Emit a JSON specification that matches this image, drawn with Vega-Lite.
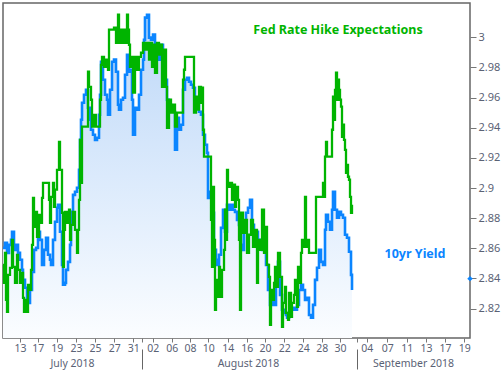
{
  "$schema": "https://vega.github.io/schema/vega-lite/v6.json",
  "width": 467,
  "height": 335,
  "autosize": {"type": "none"},
  "padding": {"left": 3, "top": 3, "right": 34, "bottom": 32},
  "background": "#ffffff",
  "config": {
    "view": {"stroke": "#666666", "strokeWidth": 1.5},
    "axis": {"grid": false, "domain": false, "labelFont": "Noto Sans", "labelFontSize": 11, "labelColor": "#5a6275", "tickColor": "#777777", "title": null, "labelOverlap": false, "labelFlush": false}
  },
  "datasets": {
    "blue": [
      {"i":3,"v":2.8603},{"i":5,"v":2.8637},{"i":7,"v":2.8570},{"i":9,"v":2.8623},{"i":11,"v":2.8656},{"i":12,"v":2.8710},{"i":14,"v":2.8590},{"i":16,"v":2.8623},{"i":18,"v":2.8570},{"i":20,"v":2.8524},
      {"i":22,"v":2.8457},{"i":23,"v":2.8391},{"i":25,"v":2.8338},{"i":27,"v":2.8258},{"i":28,"v":2.8238},{"i":30,"v":2.8324},{"i":32,"v":2.8444},{"i":34,"v":2.8590},{"i":36,"v":2.8603},{"i":38,"v":2.8710},
      {"i":40,"v":2.8656},{"i":42,"v":2.8490},{"i":44,"v":2.8590},{"i":46,"v":2.8670},{"i":48,"v":2.8557},{"i":50,"v":2.8524},{"i":51,"v":2.8490},{"i":53,"v":2.8656},{"i":55,"v":2.8776},{"i":57,"v":2.8869},
      {"i":58,"v":2.8889},{"i":60,"v":2.8710},{"i":62,"v":2.8490},{"i":63,"v":2.8358},{"i":65,"v":2.8371},{"i":66,"v":2.8457},{"i":68,"v":2.8510},{"i":70,"v":2.8623},{"i":71,"v":2.8842},{"i":73,"v":2.8955},
      {"i":75,"v":2.8975},{"i":77,"v":2.9002},{"i":79,"v":2.9121},{"i":80,"v":2.9320},{"i":81,"v":2.9453},{"i":82,"v":2.9566},{"i":84,"v":2.9619},{"i":86,"v":2.9652},{"i":88,"v":2.9533},{"i":90,"v":2.9453},
      {"i":91,"v":2.9387},{"i":93,"v":2.9354},{"i":95,"v":2.9320},{"i":97,"v":2.9334},{"i":99,"v":2.9486},{"i":100,"v":2.9619},{"i":101,"v":2.9838},{"i":103,"v":2.9719},{"i":105,"v":2.9619},{"i":107,"v":2.9586},
      {"i":108,"v":2.9486},{"i":110,"v":2.9652},{"i":112,"v":2.9838},{"i":114,"v":2.9852},{"i":116,"v":2.9772},{"i":118,"v":2.9553},{"i":119,"v":2.9520},{"i":121,"v":2.9586},{"i":123,"v":2.9599},{"i":125,"v":2.9752},
      {"i":127,"v":2.9885},{"i":129,"v":2.9772},{"i":131,"v":2.9785},{"i":132,"v":2.9586},{"i":133,"v":2.9354},{"i":135,"v":2.9533},{"i":137,"v":2.9520},{"i":139,"v":2.9619},{"i":141,"v":2.9785},{"i":143,"v":2.9852},
      {"i":144,"v":2.9984},{"i":145,"v":3.0131},{"i":147,"v":3.0150},{"i":149,"v":2.9998},{"i":151,"v":2.9984},{"i":153,"v":3.0018},{"i":155,"v":2.9918},{"i":157,"v":2.9885},{"i":159,"v":2.9852},{"i":161,"v":2.9951},
      {"i":163,"v":2.9865},{"i":165,"v":2.9719},{"i":167,"v":2.9586},{"i":169,"v":2.9553},{"i":171,"v":2.9520},{"i":173,"v":2.9506},{"i":175,"v":2.9254},{"i":177,"v":2.9466},{"i":179,"v":2.9387},{"i":181,"v":2.9420},
      {"i":183,"v":2.9652},{"i":185,"v":2.9719},{"i":187,"v":2.9732},{"i":189,"v":2.9705},{"i":191,"v":2.9686},{"i":193,"v":2.9666},{"i":195,"v":2.9586},{"i":197,"v":2.9553},{"i":199,"v":2.9506},{"i":201,"v":2.9486},
      {"i":203,"v":2.9354},{"i":205,"v":2.9287},{"i":207,"v":2.9234},{"i":208,"v":2.8935},{"i":210,"v":2.8975},{"i":212,"v":2.8836},{"i":214,"v":2.8590},{"i":216,"v":2.8524},{"i":217,"v":2.8490},{"i":219,"v":2.8557},
      {"i":221,"v":2.8736},{"i":223,"v":2.8856},{"i":225,"v":2.8710},{"i":227,"v":2.8889},{"i":229,"v":2.8856},{"i":231,"v":2.8889},{"i":233,"v":2.8856},{"i":235,"v":2.8842},{"i":237,"v":2.8789},{"i":239,"v":2.8756},
      {"i":241,"v":2.8623},{"i":242,"v":2.8590},{"i":244,"v":2.8756},{"i":246,"v":2.8836},{"i":248,"v":2.8869},{"i":250,"v":2.8922},{"i":252,"v":2.8756},{"i":254,"v":2.8690},{"i":256,"v":2.8710},{"i":258,"v":2.8656},
      {"i":260,"v":2.8623},{"i":262,"v":2.8590},{"i":264,"v":2.8623},{"i":266,"v":2.8490},{"i":268,"v":2.8324},{"i":270,"v":2.8225},{"i":272,"v":2.8258},{"i":274,"v":2.8225},{"i":276,"v":2.8424},{"i":278,"v":2.8510},
      {"i":280,"v":2.8291},{"i":282,"v":2.8192},{"i":284,"v":2.8172},{"i":286,"v":2.8158},{"i":287,"v":2.8139},{"i":289,"v":2.8172},{"i":291,"v":2.8192},{"i":293,"v":2.8205},{"i":295,"v":2.8192},{"i":297,"v":2.8225},
      {"i":299,"v":2.8324},{"i":301,"v":2.8358},{"i":303,"v":2.8324},{"i":305,"v":2.8258},{"i":307,"v":2.8271},{"i":309,"v":2.8158},{"i":311,"v":2.8139},{"i":313,"v":2.8225},{"i":315,"v":2.8391},{"i":317,"v":2.8471},
      {"i":319,"v":2.8590},{"i":321,"v":2.8510},{"i":323,"v":2.8490},{"i":325,"v":2.8723},{"i":326,"v":2.8822},{"i":328,"v":2.8776},{"i":330,"v":2.8723},{"i":332,"v":2.8856},{"i":333,"v":2.8975},{"i":335,"v":2.8856},
      {"i":337,"v":2.8803},{"i":339,"v":2.8842},{"i":341,"v":2.8822},{"i":343,"v":2.8803},{"i":345,"v":2.8690},{"i":347,"v":2.8670},{"i":349,"v":2.8577},{"i":351,"v":2.8424},{"i":352,"v":2.8324}
    ],
    "fed": [
      {"i":3,"v":2.8490},{"i":4,"v":2.8371},{"i":5,"v":2.8570},{"i":6,"v":2.8258},{"i":7,"v":2.8178},{"i":8,"v":2.8424},{"i":10,"v":2.8471},{"i":12,"v":2.8656},{"i":13,"v":2.8477},{"i":15,"v":2.8371},
      {"i":17,"v":2.8557},{"i":18,"v":2.8457},{"i":20,"v":2.8371},{"i":22,"v":2.8437},{"i":23,"v":2.8271},{"i":24,"v":2.8178},{"i":25,"v":2.8258},{"i":27,"v":2.8178},{"i":28,"v":2.8358},{"i":30,"v":2.8324},
      {"i":31,"v":2.8457},{"i":32,"v":2.8623},{"i":33,"v":2.8935},{"i":34,"v":2.8743},{"i":36,"v":2.8842},{"i":37,"v":2.8676},{"i":39,"v":2.8822},{"i":41,"v":2.8769},{"i":42,"v":2.8935},{"i":43,"v":2.9035},
      {"i":48,"v":2.9035},{"i":49,"v":2.8922},{"i":50,"v":2.8769},{"i":51,"v":2.8942},{"i":53,"v":2.9035},{"i":54,"v":2.8876},{"i":55,"v":2.8989},{"i":57,"v":2.9121},{"i":59,"v":2.9307},{"i":60,"v":2.9121},
      {"i":62,"v":2.8836},{"i":63,"v":2.8477},{"i":64,"v":2.8723},{"i":65,"v":2.8842},{"i":67,"v":2.8769},{"i":69,"v":2.8856},{"i":70,"v":2.8656},{"i":71,"v":2.8756},{"i":73,"v":2.8842},{"i":75,"v":2.8723},
      {"i":77,"v":2.8570},{"i":78,"v":2.8723},{"i":79,"v":2.8922},{"i":80,"v":2.9320},{"i":81,"v":2.9035},{"i":82,"v":2.9407},{"i":87,"v":2.9407},{"i":88,"v":2.9772},{"i":89,"v":2.9672},{"i":91,"v":2.9586},
      {"i":92,"v":2.9407},{"i":94,"v":2.9486},{"i":96,"v":2.9407},{"i":100,"v":2.9586},{"i":101,"v":2.9818},{"i":102,"v":2.9871},{"i":104,"v":2.9805},{"i":106,"v":2.9852},{"i":108,"v":2.9785},{"i":109,"v":3.0051},
      {"i":114,"v":3.0064},{"i":116,"v":2.9964},{"i":117,"v":3.0064},{"i":118,"v":3.0150},{"i":119,"v":2.9964},{"i":121,"v":3.0051},{"i":122,"v":2.9964},{"i":124,"v":3.0051},{"i":126,"v":2.9964},{"i":127,"v":3.0150},
      {"i":128,"v":3.0051},{"i":129,"v":2.9951},{"i":130,"v":2.9805},{"i":132,"v":2.9871},{"i":133,"v":2.9633},{"i":135,"v":2.9871},{"i":137,"v":2.9785},{"i":139,"v":2.9871},{"i":141,"v":2.9898},{"i":143,"v":2.9964},
      {"i":145,"v":2.9918},{"i":147,"v":2.9964},{"i":149,"v":2.9852},{"i":150,"v":2.9964},{"i":152,"v":2.9805},{"i":154,"v":2.9951},{"i":155,"v":2.9765},{"i":157,"v":2.9964},{"i":159,"v":2.9885},{"i":161,"v":2.9951},
      {"i":162,"v":2.9672},{"i":164,"v":2.9918},{"i":166,"v":2.9672},{"i":167,"v":2.9400},{"i":169,"v":2.9586},{"i":171,"v":2.9500},{"i":173,"v":2.9553},{"i":175,"v":2.9407},{"i":177,"v":2.9500},{"i":182,"v":2.9500},
      {"i":183,"v":2.9719},{"i":184,"v":2.9785},{"i":185,"v":2.9871},{"i":193,"v":2.9871},{"i":194,"v":2.9500},{"i":196,"v":2.9606},{"i":198,"v":2.9520},{"i":199,"v":2.9672},{"i":201,"v":2.9566},{"i":202,"v":2.9666},
      {"i":203,"v":2.9387},{"i":204,"v":2.9208},{"i":210,"v":2.9208},{"i":211,"v":2.8789},{"i":212,"v":2.8477},{"i":213,"v":2.9008},{"i":214,"v":2.8656},{"i":215,"v":2.8192},{"i":216,"v":2.8391},{"i":217,"v":2.8278},
      {"i":219,"v":2.8477},{"i":220,"v":2.8278},{"i":222,"v":2.8457},{"i":224,"v":2.8590},{"i":225,"v":2.8856},{"i":226,"v":2.8656},{"i":227,"v":2.9121},{"i":228,"v":2.9008},{"i":230,"v":2.9035},{"i":232,"v":2.8922},
      {"i":233,"v":2.9022},{"i":235,"v":2.8876},{"i":236,"v":2.9008},{"i":238,"v":2.8922},{"i":239,"v":2.8656},{"i":240,"v":2.8192},{"i":241,"v":2.8836},{"i":243,"v":2.8703},{"i":245,"v":2.8789},{"i":247,"v":2.8570},
      {"i":249,"v":2.8690},{"i":251,"v":2.8789},{"i":253,"v":2.8610},{"i":255,"v":2.8723},{"i":257,"v":2.8371},{"i":258,"v":2.8656},{"i":260,"v":2.8590},{"i":262,"v":2.8856},{"i":264,"v":2.8570},{"i":265,"v":2.8743},
      {"i":267,"v":2.8490},{"i":269,"v":2.8411},{"i":270,"v":2.8092},{"i":271,"v":2.8324},{"i":273,"v":2.8258},{"i":274,"v":2.8371},{"i":275,"v":2.8477},{"i":276,"v":2.8344},{"i":278,"v":2.8570},{"i":280,"v":2.8411},
      {"i":282,"v":2.8079},{"i":283,"v":2.8238},{"i":285,"v":2.8344},{"i":286,"v":2.8172},{"i":288,"v":2.8125},{"i":289,"v":2.8305},{"i":291,"v":2.8145},{"i":292,"v":2.8238},{"i":294,"v":2.8291},{"i":295,"v":2.8391},
      {"i":297,"v":2.8212},{"i":298,"v":2.8477},{"i":300,"v":2.8371},{"i":301,"v":2.8570},{"i":302,"v":2.8656},{"i":304,"v":2.8610},{"i":305,"v":2.8942},{"i":306,"v":2.8610},{"i":308,"v":2.8656},{"i":309,"v":2.8570},
      {"i":315,"v":2.8570},{"i":316,"v":2.8942},{"i":322,"v":2.8942},{"i":323,"v":2.9035},{"i":324,"v":2.8942},{"i":325,"v":2.9208},{"i":326,"v":2.9307},{"i":327,"v":2.9208},{"i":331,"v":2.9208},{"i":332,"v":2.9387},
      {"i":333,"v":2.9606},{"i":334,"v":2.9453},{"i":335,"v":2.9652},{"i":336,"v":2.9765},{"i":337,"v":2.9586},{"i":338,"v":2.9719},{"i":339,"v":2.9652},{"i":340,"v":2.9586},{"i":341,"v":2.9540},{"i":342,"v":2.9340},
      {"i":343,"v":2.9420},{"i":344,"v":2.9320},{"i":345,"v":2.9254},{"i":346,"v":2.9101},{"i":347,"v":2.9154},{"i":348,"v":2.9075},{"i":349,"v":2.9055},{"i":350,"v":2.8942},{"i":351,"v":2.8836},{"i":352,"v":2.8889}
    ]
  },
  "encoding": {
    "y": {"field": "v", "type": "quantitative", "scale": {"domain": [2.8005, 3.0228], "nice": false, "zero": false},
      "axis": {"orient": "right", "values": [2.82, 2.84, 2.86, 2.88, 2.9, 2.92, 2.94, 2.96, 2.98, 3], "format": ".3~g", "tickSize": 6, "labelPadding": 2, "labelOverlap": false, "labelFlush": false}}
  },
  "resolve": {"axis": {"x": "independent"}},
  "layer": [
    {
      "data": {"name": "blue"},
      "mark": {"type": "area", "interpolate": "step-after", "fill": {"x1": 0, "y1": 0, "x2": 0, "y2": 1, "gradient": "linear", "stops": [{"offset": 0, "color": "#bcd7f7"}, {"offset": 0.5, "color": "#dbeafc"}, {"offset": 1, "color": "#fbfdff"}]}},
      "encoding": {
        "x": {"field": "i", "type": "quantitative", "scale": {"domain": [3, 470], "nice": false, "zero": false},
          "axis": {"orient": "bottom", "values": [20, 37.7, 56.7, 76, 95, 114.3, 133.3, 141.7, 152.7, 171.7, 190, 208.3, 227.7, 246.7, 265, 284.3, 303.3, 321.7, 340, 357.3, 366.7, 387.3, 406.7, 426, 445, 464.3],
            "labelExpr": "['13','17','19','23','25','27','31','','02','06','08','10','14','16','20','22','24','28','30','','04','07','11','13','17','19'][indexof([20, 37.7, 56.7, 76, 95, 114.3, 133.3, 141.7, 152.7, 171.7, 190, 208.3, 227.7, 246.7, 265, 284.3, 303.3, 321.7, 340, 357.3, 366.7, 387.3, 406.7, 426, 445, 464.3], datum.value)]",
            "tickSize": 4, "labelPadding": 1, "labelFontSize": 10.5, "labelOverlap": false, "labelFlush": false}},
        "y2": {"datum": 2.8005}
      }
    },
    {
      "data": {"name": "blue"},
      "mark": {"type": "line", "interpolate": "step-after", "color": "#0b85ff", "strokeWidth": 2.6},
      "encoding": {
        "x": {"field": "i", "type": "quantitative", "scale": {"domain": [3, 470], "nice": false, "zero": false},
          "axis": {"orient": "bottom", "offset": 11, "values": [72, 141.7, 248, 357.3, 413],
            "labelExpr": "datum.value == 72 ? 'July 2018' : datum.value == 248 ? 'August 2018' : datum.value == 413 ? 'September 2018' : ''",
            "tickSize": 20, "tickColor": "#666666", "tickOpacity": {"condition": {"test": "datum.value == 141.7 || datum.value == 357.3", "value": 1}, "value": 0},
            "labelPadding": -11, "labelFontSize": 10.5, "labelOverlap": false, "labelFlush": false}}
      }
    },
    {
      "data": {"name": "fed"},
      "mark": {"type": "line", "interpolate": "step-after", "color": "#00b400", "strokeWidth": 2.3},
      "encoding": {
        "x": {"field": "i", "type": "quantitative", "scale": {"domain": [3, 470], "nice": false, "zero": false}, "axis": null}
      }
    },
    {
      "data": {"values": [{"i": 338, "v": 3.0051, "label": "Fed Rate Hike Expectations", "c": "fed"}, {"i": 415, "v": 2.8564, "label": "10yr Yield", "c": "blue"}]},
      "mark": {"type": "text", "font": "Noto Sans", "fontWeight": "bold", "fontSize": 12.5, "align": "center", "baseline": "middle"},
      "encoding": {
        "x": {"field": "i", "type": "quantitative", "scale": {"domain": [3, 470], "nice": false, "zero": false}, "axis": null},
        "text": {"field": "label"},
        "color": {"field": "c", "type": "nominal", "scale": {"domain": ["fed", "blue"], "range": ["#00b400", "#0b85ff"]}, "legend": null}
      }
    },
    {
      "data": {"values": [{"i": 470, "v": 2.8399}]},
      "mark": {"type": "point", "shape": "diamond", "filled": true, "size": 30, "color": "#0b85ff", "opacity": 1},
      "encoding": {
        "x": {"field": "i", "type": "quantitative", "scale": {"domain": [3, 470], "nice": false, "zero": false}, "axis": null}
      }
    }
  ]
}
